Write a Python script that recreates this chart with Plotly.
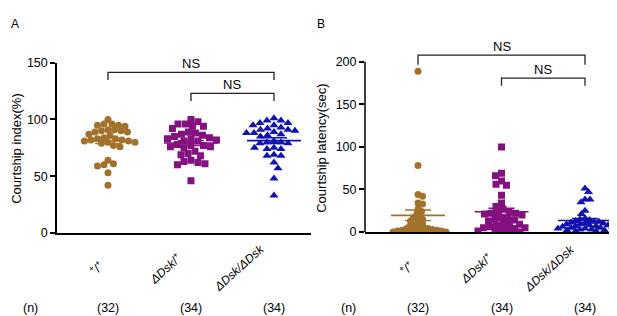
import numpy as np
import plotly.graph_objects as go

# ---------------- data ----------------
categories = ["<sup>+</sup>/<sup>+</sup>", "<i>ΔDsk</i>/<sup>+</sup>", "<i>ΔDsk/ΔDsk</i>"]
n_labels = ["(32)", "(34)", "(34)"]

index_wt = [100, 96, 96, 95, 95, 94, 91, 91, 90, 90, 89, 89, 87, 86,
            84, 83, 83, 82, 82, 81, 81, 80, 80, 79, 77, 76, 64, 61, 60, 59, 53, 42]
index_het = [100, 98, 96, 96, 94, 94, 92, 89, 88, 87, 86, 85, 84, 83, 83, 82, 81,
             81, 78, 77, 77, 76, 76, 75, 72, 70, 69, 68, 64, 63, 62, 61, 60, 46]
index_hom = [101, 99, 99, 97, 97, 95, 95, 93, 92, 91, 91, 90, 89, 88, 88, 87, 86, 85,
             81, 80, 80, 79, 79, 75, 75, 74, 74, 69, 68, 68, 62, 57, 48, 33]

lat_wt = [189, 78, 44, 42, 34, 33, 27, 24, 22, 17, 17, 15, 13, 11, 10,
          8, 7, 6, 5, 4, 4, 3, 3, 2, 2, 2, 1, 1, 1, 0, 0, 0]
lat_het = [100, 69, 66, 60, 56, 55, 43, 34, 30, 27, 24, 23, 22, 22, 21, 20, 17, 16,
           15, 14, 13, 10, 9, 9, 8, 6, 5, 5, 4, 3, 2, 1, 1, 0]
lat_hom = [51, 47, 38, 38, 35, 25, 21, 16, 15, 14, 13, 12, 12, 11, 10, 10, 9, 9,
           8, 8, 7, 7, 6, 6, 5, 5, 4, 4, 3, 3, 2, 2, 1, 1]

colors = ["#A2722C", "#84117F", "#1212B0"]
symbols = ["circle", "square", "triangle-up"]
msizes = [7, 7, 8]

W, H = 617, 316
FONT = "Liberation Sans, Arial, sans-serif"

# panel geometry (pixels)
A_x0, A_x1 = 49, 303
B_x0, B_x1 = 357, 617
A_xr = [-0.614, 2.446]
B_xr = [-0.635, 2.479]
A_yr = [0, 150]
B_yr = [0, 220]
A_ypx = (228, 50)   # y=0 px, y=150 px
B_ybot = 227
B_ppu = 178 / 200
A_ppu = 178 / 150
B_ytop = B_ybot - B_yr[1] * B_ppu
SWARM_HALF = 28     # max half width of a swarm, px


def swarm_px(vals, ppu_y, d):
    vals = np.asarray(vals, float)
    placed = []
    offs = np.zeros(len(vals))
    order = np.argsort(-vals, kind="stable")
    for cnt, i in enumerate(order):
        y = vals[i] * ppu_y
        best = None
        k = 0
        while best is None:
            sides = [0] if k == 0 else ([1, -1] if cnt % 2 else [-1, 1])
            for s in sides:
                x = s * k * 0.5
                if all((x - px) ** 2 + (y - py) ** 2 >= d * d for px, py in placed):
                    best = x
                    break
            k += 1
        placed.append((best, y))
        offs[i] = best
    return offs


def swarm(vals, ppu_y, ppu_x):
    best = swarm_px(vals, ppu_y, 3.0)
    for d in np.arange(3.0, 7.01, 0.2):
        o = swarm_px(vals, ppu_y, d)
        if np.max(np.abs(o)) <= SWARM_HALF:
            best = o
    return best / ppu_x


fig = go.Figure()


def add_panel(groups, xa, ya, ppu_y, ppu_x):
    for gi, vals in enumerate(groups):
        offs = swarm(vals, ppu_y, ppu_x)
        fig.add_trace(go.Scatter(
            x=gi + offs, y=vals, mode="markers", xaxis=xa, yaxis=ya,
            marker=dict(symbol=symbols[gi], size=msizes[gi], color=colors[gi], line=dict(width=0)),
            showlegend=False, hoverinfo="skip"))
        m = float(np.mean(vals))
        sem = float(np.std(vals, ddof=1) / np.sqrt(len(vals)))
        hw = 27 / ppu_x
        fig.add_trace(go.Scatter(
            x=[gi - hw, gi + hw], y=[m, m], mode="lines", xaxis=xa, yaxis=ya,
            line=dict(color=colors[gi], width=1.6), showlegend=False, hoverinfo="skip"))
        fig.add_trace(go.Scatter(
            x=[gi], y=[m], mode="markers", xaxis=xa, yaxis=ya,
            marker=dict(size=1, color=colors[gi]),
            error_y=dict(type="data", array=[sem], color=colors[gi], thickness=1.4, width=13),
            showlegend=False, hoverinfo="skip"))


add_panel([index_wt, index_het, index_hom], "x", "y", A_ppu, 83.0)
add_panel([lat_wt, lat_het, lat_hom], "x2", "y2", B_ppu, 83.5)

axis_common = dict(showgrid=False, zeroline=False, linecolor="black", linewidth=1.5)
tickfont = dict(family=FONT, size=12.5, color="black")

fig.update_layout(
    width=W, height=H, margin=dict(l=0, r=0, t=0, b=0),
    paper_bgcolor="white", plot_bgcolor="white",
    font=dict(family=FONT, color="black"),
    xaxis=dict(domain=[A_x0 / W, A_x1 / W], range=A_xr, showline=True, showticklabels=False,
               ticks="", anchor="y", **axis_common),
    yaxis=dict(domain=[1 - A_ypx[0] / H, 1 - A_ypx[1] / H], range=A_yr, showline=True,
               ticks="outside", ticklen=5, tickwidth=1.5, tickcolor="black",
               tickvals=[0, 50, 100, 150], anchor="x", tickfont=tickfont, **axis_common),
    xaxis2=dict(domain=[B_x0 / W, B_x1 / W], range=B_xr, showline=True, showticklabels=False,
                ticks="", anchor="y2", **axis_common),
    yaxis2=dict(domain=[1 - B_ybot / H, 1 - B_ytop / H], range=B_yr, showline=False,
                ticks="outside", ticklen=5, tickwidth=1.5, tickcolor="black",
                tickvals=[0, 50, 100, 150, 200], anchor="x2", tickfont=tickfont, **axis_common),
)

# y axis line for panel B (0..200)
fig.add_shape(type="line", xref="paper", yref="y2", x0=B_x0 / W, x1=B_x0 / W, y0=0, y1=200,
              line=dict(color="black", width=1.5))

# significance brackets
brackets = [
    ("x", "y", 0, 2, 141.6, 134.8),
    ("x", "y", 1, 2, 123.0, 116.3),
    ("x2", "y2", 0, 2, 207.9, 196.6),
    ("x2", "y2", 1, 2, 180.9, 171.9),
]
for xr, yr, a, b, top, tip in brackets:
    fig.add_shape(type="path", xref=xr, yref=yr,
                  path=f"M {a},{tip} L {a},{top} L {b},{top} L {b},{tip}",
                  line=dict(color="#222222", width=1.3))
    fig.add_annotation(xref=xr, yref=yr, x=(a + b) / 2, y=top, text="NS", showarrow=False,
                       yanchor="bottom", yshift=-1, font=dict(family=FONT, size=13, color="black"))

# category labels (rotated)
label_off = [0.14, 0.31, 0.42]
for xr in ["x", "x2"]:
    for gi, lab in enumerate(categories):
        fig.add_annotation(xref=xr, yref="paper", x=gi - label_off[gi], y=1 - 265 / H,
                           text=lab, showarrow=False, textangle=-42,
                           xanchor="center", yanchor="middle",
                           font=dict(family=FONT, size=12, color="black"))
        fig.add_annotation(xref=xr, yref="paper", x=gi, y=1 - 307 / H, text=n_labels[gi],
                           showarrow=False, xanchor="center", yanchor="middle",
                           font=dict(family=FONT, size=12.5, color="black"))

# (n) labels
for px in [22, 340]:
    fig.add_annotation(xref="paper", yref="paper", x=px / W, y=1 - 307 / H, text="(n)",
                       showarrow=False, xanchor="center", yanchor="middle",
                       font=dict(family=FONT, size=12.5, color="black"))

# axis titles
fig.add_annotation(xref="paper", yref="paper", x=9 / W, y=1 - 140 / H, text="Courtship index(%)",
                   textangle=-90, showarrow=False, xanchor="center", yanchor="middle",
                   font=dict(family=FONT, size=13, color="black"))
fig.add_annotation(xref="paper", yref="paper", x=314 / W, y=1 - 140 / H, text="Courtship latency(sec)",
                   textangle=-90, showarrow=False, xanchor="center", yanchor="middle",
                   font=dict(family=FONT, size=13, color="black"))

# panel letters
fig.add_annotation(xref="paper", yref="paper", x=1 / W, y=1, text="A", showarrow=False,
                   xanchor="left", yanchor="top", font=dict(family=FONT, size=12, color="black"))
fig.add_annotation(xref="paper", yref="paper", x=307 / W, y=1, text="B", showarrow=False,
                   xanchor="left", yanchor="top", font=dict(family=FONT, size=12, color="black"))

fig.write_html("out.html")
